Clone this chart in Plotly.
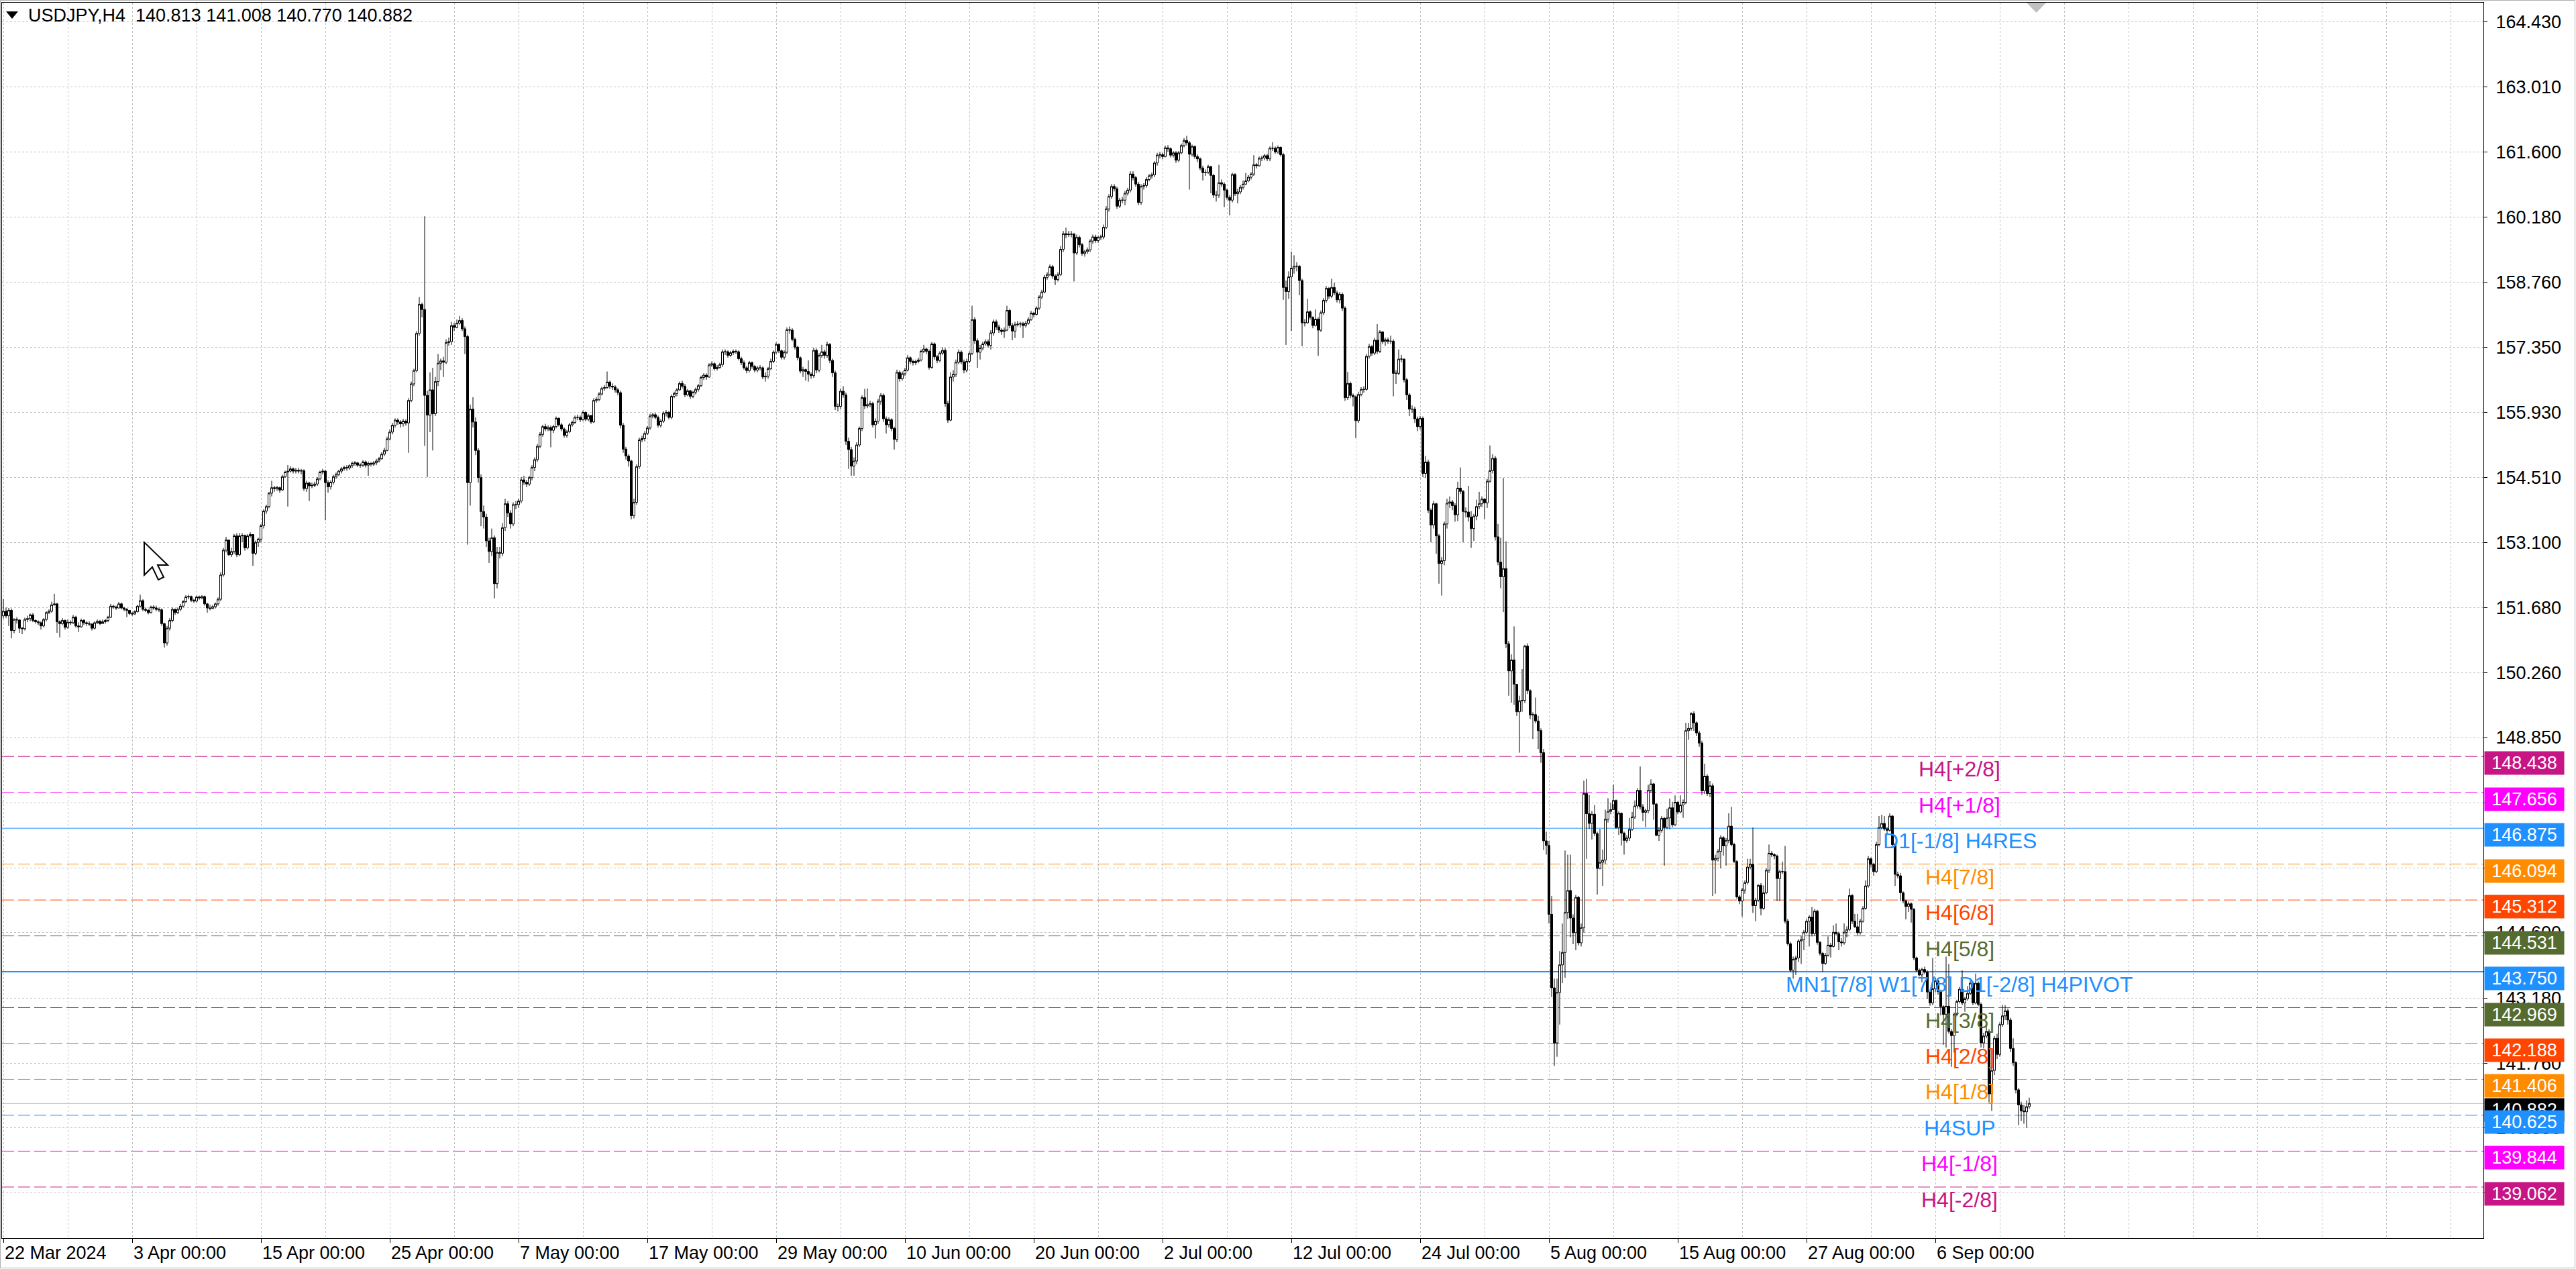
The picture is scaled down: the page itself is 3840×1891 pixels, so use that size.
import plotly.graph_objects as go

# ---- H4 bars, USDJPY, 22 Mar 2024 -> 13 Sep 2024 (6 bars per trading day)
first_open = 151.50

closes = [
    151.60, 151.50, 151.62, 151.18, 151.42, 151.41, 151.23, 151.22, 151.42, 151.44, 151.52, 151.40,
    151.37, 151.35, 151.28, 151.42, 151.57, 151.60, 151.74, 151.76, 151.37, 151.33, 151.40, 151.25,
    151.36, 151.35, 151.47, 151.28, 151.26, 151.40, 151.35, 151.33, 151.32, 151.23, 151.35, 151.38,
    151.33, 151.37, 151.40, 151.47, 151.71, 151.69, 151.67, 151.76, 151.67, 151.64, 151.62, 151.55,
    151.54, 151.59, 151.71, 151.83, 151.64, 151.62, 151.57, 151.69, 151.67, 151.64, 151.63, 151.33,
    150.91, 151.23, 151.40, 151.64, 151.57, 151.64, 151.71, 151.81, 151.91, 151.92, 151.84, 151.82,
    151.91, 151.89, 151.92, 151.76, 151.67, 151.66, 151.70, 151.76, 151.86, 152.39, 152.93, 153.15,
    152.83, 152.90, 153.24, 152.83, 153.24, 153.25, 152.98, 153.24, 153.27, 152.86, 153.10, 153.17,
    153.46, 153.78, 153.88, 154.17, 154.29, 154.27, 154.29, 154.24, 154.53, 154.63, 154.65, 154.70,
    154.65, 154.67, 154.65, 154.66, 154.27, 154.39, 154.33, 154.34, 154.37, 154.48, 154.63, 154.65,
    154.40, 154.31, 154.41, 154.53, 154.58, 154.65, 154.70, 154.73, 154.72, 154.77, 154.82, 154.83,
    154.78, 154.78, 154.85, 154.78, 154.82, 154.80, 154.83, 154.87, 154.92, 155.02, 155.10, 155.35,
    155.50, 155.65, 155.76, 155.72, 155.68, 155.74, 155.70, 156.19, 156.55, 156.84, 157.65, 158.28,
    158.17, 156.30, 155.87, 156.42, 155.90, 156.60, 157.00, 157.05, 157.02, 157.45, 157.47, 157.82,
    157.78, 157.87, 157.93, 157.75, 157.58, 154.40, 156.00, 155.72, 155.10, 154.51, 153.77, 153.65,
    153.13, 152.90, 153.20, 152.20, 152.88, 152.86, 153.42, 153.94, 153.74, 153.50, 153.92, 153.92,
    154.00, 154.46, 154.41, 154.37, 154.51, 154.73, 154.90, 155.19, 155.45, 155.62, 155.57, 155.60,
    155.54, 155.62, 155.80, 155.66, 155.57, 155.43, 155.51, 155.66, 155.71, 155.82, 155.82, 155.77,
    155.93, 155.78, 155.86, 155.72, 156.19, 156.21, 156.33, 156.45, 156.47, 156.59, 156.50, 156.48,
    156.42, 156.36, 155.65, 155.13, 154.98, 154.87, 153.68, 153.97, 154.75, 155.33, 155.36, 155.47,
    155.59, 155.85, 155.88, 155.82, 155.65, 155.74, 155.91, 155.93, 155.82, 156.28, 156.34, 156.42,
    156.56, 156.50, 156.31, 156.40, 156.28, 156.37, 156.43, 156.51, 156.69, 156.74, 156.70, 156.96,
    156.99, 156.88, 156.91, 156.97, 157.25, 157.25, 157.17, 157.23, 157.26, 157.25, 157.10, 157.01,
    156.90, 156.84, 157.01, 156.93, 156.85, 156.90, 156.90, 156.70, 156.72, 156.88, 157.04, 157.24,
    157.41, 157.27, 157.13, 157.24, 157.73, 157.72, 157.52, 157.35, 157.12, 156.83, 156.86, 156.82,
    156.76, 156.73, 157.28, 156.85, 157.17, 157.25, 157.17, 157.41, 157.06, 156.79, 156.06, 156.06,
    156.39, 156.31, 155.30, 155.12, 154.76, 154.87, 155.22, 155.58, 156.25, 156.07, 156.10, 156.12,
    155.66, 155.74, 156.17, 156.30, 155.79, 155.66, 155.77, 155.58, 155.34, 156.80, 156.66, 156.77,
    156.85, 157.12, 157.04, 157.01, 157.04, 157.07, 157.26, 157.31, 157.26, 156.91, 157.42, 157.14,
    157.06, 157.22, 157.28, 156.12, 155.76, 156.70, 156.76, 157.02, 157.24, 157.03, 156.85, 157.04,
    157.21, 157.95, 157.49, 157.24, 157.33, 157.42, 157.47, 157.39, 157.66, 157.90, 157.79, 157.72,
    157.69, 157.72, 158.15, 157.82, 157.70, 157.84, 157.85, 157.86, 157.82, 157.87, 157.95, 158.09,
    158.06, 158.20, 158.44, 158.55, 158.87, 158.93, 159.10, 158.90, 158.82, 158.93, 159.48, 159.82,
    159.80, 159.81, 159.81, 159.40, 159.74, 159.58, 159.39, 159.43, 159.47, 159.66, 159.75, 159.67,
    159.74, 159.75, 159.96, 160.36, 160.63, 160.85, 160.80, 160.42, 160.55, 160.55, 160.70, 160.77,
    161.12, 161.04, 160.90, 160.50, 160.85, 160.87, 161.00, 161.08, 161.10, 161.36, 161.53, 161.54,
    161.50, 161.69, 161.67, 161.53, 161.58, 161.42, 161.58, 161.74, 161.85, 161.80, 161.55, 161.72,
    161.50, 161.45, 161.25, 161.15, 161.16, 161.28, 161.09, 160.66, 160.66, 160.93, 160.90, 160.77,
    160.61, 160.55, 161.11, 160.69, 160.73, 160.83, 160.90, 160.97, 161.05, 161.12, 161.32, 161.30,
    161.46, 161.47, 161.52, 161.45, 161.68, 161.68, 161.60, 161.70, 161.54, 158.65, 158.56, 158.88,
    159.07, 159.11, 159.11, 158.80, 157.88, 157.88, 158.12, 158.00, 157.82, 157.96, 157.72, 158.10,
    158.37, 158.63, 158.46, 158.65, 158.53, 158.38, 158.50, 158.20, 156.25, 156.56, 156.30, 156.27,
    155.75, 156.32, 156.43, 156.43, 157.15, 157.36, 157.22, 157.50, 157.26, 157.68, 157.47, 157.51,
    157.48, 157.48, 156.78, 156.78, 157.09, 157.09, 156.64, 156.31, 156.00, 156.00, 155.79, 155.62,
    155.80, 154.60, 154.85, 153.80, 153.48, 153.94, 153.24, 152.64, 152.70, 153.50, 153.95, 153.98,
    153.90, 153.70, 154.28, 154.21, 153.77, 153.76, 153.65, 153.40, 153.67, 153.88, 153.94, 154.04,
    153.96, 154.43, 154.66, 154.93, 153.22, 152.67, 152.35, 152.53, 150.89, 150.30, 150.54, 150.01,
    149.41, 149.65, 149.66, 150.84, 149.87, 149.34, 149.35, 149.21, 149.00, 148.52, 146.60, 146.50,
    145.00, 143.40, 142.20, 143.30, 143.90, 144.17, 145.04, 145.52, 144.92, 144.60, 145.37, 144.38,
    144.71, 147.63, 147.19, 146.98, 147.18, 146.76, 146.00, 146.13, 146.18, 147.07, 147.24, 147.28,
    147.48, 146.89, 147.20, 146.77, 146.61, 146.66, 146.85, 147.12, 147.36, 147.70, 147.34, 147.22,
    147.26, 147.70, 147.84, 147.40, 146.72, 146.83, 147.09, 146.89, 147.10, 147.32, 146.95, 147.44,
    147.23, 147.38, 147.44, 149.00, 149.05, 149.37, 149.17, 148.95, 148.73, 147.69, 148.01, 147.63,
    147.80, 146.18, 146.22, 146.37, 146.67, 146.49, 146.61, 146.92, 146.52, 146.15, 145.38, 145.29,
    145.53, 145.69, 146.03, 146.09, 145.19, 145.31, 145.63, 145.13, 145.47, 145.96, 146.33, 146.30,
    146.27, 145.78, 145.93, 145.93, 144.85, 144.36, 143.78, 144.02, 144.05, 144.42, 144.45, 144.61,
    144.85, 144.94, 144.58, 145.07, 144.39, 144.15, 143.93, 144.11, 144.33, 144.30, 144.61, 144.58,
    144.40, 144.38, 144.61, 144.67, 145.41, 144.85, 144.73, 144.60, 144.85, 145.13, 145.62, 146.21,
    146.09, 145.93, 146.52, 146.89, 146.98, 146.86, 146.83, 147.14, 146.52, 145.87, 145.84, 145.47,
    145.29, 145.17, 145.23, 145.11, 144.05, 143.78, 143.68, 143.80, 143.74, 143.31, 143.07, 143.38,
    143.55, 143.32, 142.99, 142.82, 143.00, 142.45, 142.36, 142.82, 143.10, 143.37, 143.07, 143.16,
    143.28, 143.50, 143.07, 143.50, 143.04, 142.20, 142.35, 142.45, 141.09, 141.60, 142.30, 141.95,
    142.60, 142.79, 142.90, 142.70, 142.08, 141.77, 141.18, 140.85, 140.72, 140.70, 140.813, 140.882,
]

highs = [
    151.86, 151.68, 151.67, 151.66, 151.45, 151.47, 151.40, 151.26, 151.46, 151.50, 151.55, 151.56,
    151.42, 151.40, 151.38, 151.45, 151.60, 151.64, 151.81, 151.98, 151.78, 151.40, 151.45, 151.42,
    151.42, 151.40, 151.52, 151.50, 151.36, 151.44, 151.43, 151.38, 151.38, 151.34, 151.38, 151.42,
    151.41, 151.42, 151.43, 151.50, 151.76, 151.74, 151.72, 151.80, 151.79, 151.70, 151.67, 151.62,
    151.58, 151.62, 151.74, 151.96, 151.86, 151.68, 151.65, 151.72, 151.73, 151.72, 151.68, 151.66,
    151.35, 151.28, 151.45, 151.68, 151.66, 151.68, 151.76, 151.84, 151.95, 151.96, 151.94, 151.87,
    151.94, 151.94, 151.95, 151.94, 151.78, 151.74, 151.74, 151.79, 151.90, 152.45, 152.98, 153.22,
    153.10, 152.98, 153.28, 153.30, 153.30, 153.30, 153.27, 153.28, 153.32, 153.28, 153.14, 153.20,
    153.50, 153.82, 153.92, 154.20, 154.44, 154.33, 154.33, 154.31, 154.57, 154.66, 154.78, 154.76,
    154.73, 154.72, 154.72, 154.70, 154.69, 154.44, 154.42, 154.40, 154.42, 154.52, 154.66, 154.70,
    154.68, 154.45, 154.45, 154.57, 154.62, 154.68, 154.74, 154.77, 154.78, 154.80, 154.86, 154.87,
    154.85, 154.82, 154.89, 154.88, 154.86, 154.85, 154.87, 154.92, 154.96, 155.06, 155.16, 155.40,
    155.56, 155.70, 155.80, 155.80, 155.76, 155.79, 155.78, 156.24, 156.60, 156.88, 157.70, 158.44,
    158.32, 160.20, 156.40, 156.80, 156.90, 156.70, 157.20, 157.10, 157.14, 157.52, 157.56, 157.90,
    157.88, 157.95, 158.03, 157.98, 157.80, 157.62, 156.10, 156.26, 155.82, 155.15, 154.58, 153.90,
    153.72, 153.20, 153.40, 153.25, 153.00, 153.00, 153.52, 154.05, 154.00, 153.80, 153.97, 154.00,
    154.05, 154.52, 154.55, 154.46, 154.55, 154.78, 154.95, 155.24, 155.50, 155.66, 155.68, 155.65,
    155.64, 155.66, 155.84, 155.82, 155.70, 155.60, 155.55, 155.70, 155.75, 155.86, 155.88, 155.86,
    155.97, 155.95, 155.90, 155.88, 156.24, 156.26, 156.37, 156.49, 156.52, 156.82, 156.62, 156.56,
    156.52, 156.46, 156.40, 155.70, 155.18, 155.02, 154.90, 154.05, 154.80, 155.38, 155.42, 155.52,
    155.63, 155.90, 155.92, 155.92, 155.86, 155.78, 155.95, 155.98, 155.96, 156.32, 156.38, 156.46,
    156.60, 156.62, 156.55, 156.44, 156.42, 156.40, 156.47, 156.55, 156.73, 156.78, 156.78, 157.00,
    157.04, 157.02, 156.96, 157.01, 157.30, 157.30, 157.28, 157.27, 157.30, 157.30, 157.28, 157.14,
    157.06, 156.94, 157.05, 157.04, 156.96, 156.94, 156.96, 156.93, 156.80, 156.92, 157.10, 157.28,
    157.45, 157.43, 157.30, 157.28, 157.78, 157.80, 157.76, 157.56, 157.38, 157.15, 156.92, 156.88,
    157.06, 156.80, 157.34, 157.32, 157.22, 157.40, 157.30, 157.47, 157.44, 157.10, 156.84, 156.12,
    156.45, 156.50, 156.36, 155.38, 155.18, 154.95, 155.28, 155.62, 156.30, 156.44, 156.45, 156.18,
    156.16, 155.80, 156.22, 156.35, 156.34, 155.84, 155.82, 155.80, 155.62, 156.86, 156.84, 156.82,
    156.90, 157.18, 157.15, 157.08, 157.08, 157.12, 157.30, 157.40, 157.34, 157.30, 157.46, 157.45,
    157.18, 157.26, 157.35, 157.33, 156.18, 156.80, 156.85, 157.08, 157.30, 157.28, 157.08, 157.10,
    157.26, 158.25, 158.00, 157.54, 157.40, 157.47, 157.52, 157.52, 157.72, 157.95, 157.95, 157.84,
    157.76, 157.78, 158.25, 158.18, 157.88, 157.90, 157.92, 157.90, 157.90, 157.92, 158.00, 158.14,
    158.12, 158.24, 158.48, 158.60, 158.92, 158.98, 159.15, 159.14, 158.94, 158.98, 159.55, 159.88,
    159.95, 159.88, 159.88, 159.84, 159.80, 159.78, 159.62, 159.47, 159.52, 159.70, 159.80, 159.80,
    159.78, 159.80, 160.02, 160.42, 160.68, 160.90, 160.90, 160.84, 160.60, 160.62, 160.75, 160.82,
    161.18, 161.18, 161.08, 160.95, 160.90, 160.92, 161.05, 161.12, 161.15, 161.40, 161.58, 161.60,
    161.58, 161.74, 161.75, 161.70, 161.62, 161.62, 161.62, 161.78, 161.90, 161.95, 161.84, 161.76,
    161.74, 161.55, 161.48, 161.30, 161.22, 161.32, 161.30, 161.12, 160.75, 161.32, 161.00, 160.94,
    160.80, 160.66, 161.15, 161.14, 160.80, 160.88, 160.98, 161.14, 161.10, 161.16, 161.53, 161.36,
    161.50, 161.52, 161.56, 161.56, 161.72, 161.81, 161.72, 161.74, 161.72, 161.58, 158.80, 159.00,
    159.43, 159.35, 159.20, 159.14, 158.84, 157.96, 158.40, 158.15, 158.02, 158.17, 158.00, 158.15,
    158.42, 158.68, 158.66, 158.84, 158.75, 158.58, 158.55, 158.54, 158.24, 156.81, 156.60, 156.34,
    156.30, 156.38, 156.48, 156.50, 157.20, 157.42, 157.40, 157.55, 157.85, 157.72, 157.70, 157.56,
    157.56, 157.60, 157.52, 156.85, 157.30, 157.18, 157.10, 156.68, 156.35, 156.08, 156.05, 155.84,
    155.85, 155.84, 154.98, 154.90, 153.84, 154.00, 153.96, 153.28, 152.78, 153.55, 154.05, 154.10,
    154.02, 153.95, 154.42, 154.73, 154.24, 153.86, 154.33, 153.78, 153.72, 154.03, 154.20, 154.10,
    154.06, 154.48, 155.21, 155.02, 154.98, 153.50, 153.20, 154.50, 153.12, 150.95, 150.66, 151.27,
    149.98, 149.76, 150.34, 150.87, 150.90, 149.90, 149.40, 149.72, 149.32, 149.05, 148.60, 146.80,
    146.60, 145.40, 143.60, 143.60, 144.20, 144.80, 146.39, 146.30, 146.30, 145.00, 145.42, 145.40,
    144.80, 147.91, 147.95, 147.60, 147.25, 147.38, 146.80, 146.86, 146.41, 147.28, 147.53, 147.43,
    147.82, 147.50, 147.24, 147.22, 146.80, 146.72, 147.10, 147.23, 147.48, 147.75, 148.22, 147.40,
    147.30, 147.82, 147.94, 147.86, 147.42, 146.90, 147.14, 147.12, 147.30, 147.52, 147.45, 147.59,
    147.46, 147.59, 147.50, 149.17, 149.17, 149.40, 149.42, 149.20, 149.00, 148.78, 148.28, 148.05,
    147.90, 147.85, 146.30, 146.42, 146.72, 146.70, 146.66, 147.20, 147.34, 146.56, 146.18, 145.42,
    145.58, 145.74, 146.21, 146.21, 146.89, 145.36, 145.66, 145.68, 145.63, 146.00, 146.52, 146.38,
    146.33, 146.30, 145.97, 146.15, 146.49, 144.90, 144.40, 144.08, 144.10, 144.46, 144.54, 144.66,
    144.90, 144.98, 145.16, 145.12, 145.10, 144.42, 144.18, 144.16, 144.52, 144.38, 144.76, 144.80,
    144.62, 144.48, 144.80, 144.74, 145.56, 145.44, 145.01, 145.01, 144.90, 145.18, 145.74, 146.27,
    146.24, 146.12, 146.58, 147.14, 147.17, 147.14, 146.90, 147.20, 147.16, 146.56, 145.93, 145.90,
    145.50, 145.32, 145.28, 145.26, 145.14, 144.08, 143.82, 143.84, 143.86, 143.78, 143.34, 144.05,
    143.62, 143.58, 143.36, 143.02, 144.08, 143.92, 142.50, 142.86, 143.14, 143.42, 143.78, 143.20,
    143.44, 143.56, 143.54, 143.71, 143.54, 143.08, 142.42, 142.60, 142.50, 141.70, 142.35, 142.40,
    142.65, 143.03, 143.02, 142.95, 142.75, 142.30, 141.80, 141.22, 140.92, 140.85, 140.95, 141.008,
]

lows = [
    151.44, 151.45, 151.28, 151.01, 151.12, 151.33, 151.13, 151.10, 151.18, 151.36, 151.38, 151.36,
    151.33, 151.30, 151.20, 151.25, 151.38, 151.54, 151.57, 151.72, 151.13, 151.03, 151.30, 151.20,
    151.22, 151.30, 151.32, 151.24, 151.15, 151.24, 151.30, 151.28, 151.28, 151.18, 151.20, 151.32,
    151.30, 151.32, 151.33, 151.36, 151.45, 151.65, 151.63, 151.66, 151.64, 151.60, 151.47, 151.52,
    151.50, 151.52, 151.57, 151.69, 151.60, 151.58, 151.53, 151.55, 151.63, 151.60, 151.58, 151.28,
    150.81, 150.85, 151.18, 151.36, 151.52, 151.54, 151.60, 151.68, 151.78, 151.86, 151.80, 151.78,
    151.79, 151.85, 151.86, 151.72, 151.57, 151.62, 151.65, 151.66, 151.72, 151.82, 152.35, 152.88,
    152.80, 152.78, 152.85, 152.78, 152.80, 153.10, 152.92, 152.95, 153.20, 152.59, 152.82, 153.00,
    153.10, 153.40, 153.72, 153.84, 154.10, 154.20, 154.22, 154.18, 154.22, 154.50, 153.88, 154.62,
    154.60, 154.60, 154.60, 154.58, 154.22, 154.20, 154.00, 154.28, 154.30, 154.33, 154.45, 154.58,
    153.58, 154.18, 154.25, 154.36, 154.48, 154.54, 154.60, 154.66, 154.66, 154.68, 154.72, 154.77,
    154.74, 154.72, 154.74, 154.73, 154.55, 154.75, 154.76, 154.78, 154.84, 154.90, 154.98, 155.08,
    155.32, 155.45, 155.60, 155.66, 155.60, 155.62, 155.64, 155.05, 156.15, 156.50, 156.80, 157.60,
    158.00, 155.20, 154.52, 155.50, 155.10, 155.85, 156.50, 156.85, 156.70, 156.98, 157.38, 157.40,
    157.70, 157.76, 157.84, 157.70, 157.20, 153.05, 153.90, 155.60, 155.00, 154.40, 153.45, 153.40,
    153.00, 152.65, 152.80, 151.88, 152.10, 152.75, 152.80, 153.35, 153.65, 153.40, 153.45, 153.82,
    153.85, 153.95, 154.35, 154.30, 154.33, 154.45, 154.65, 154.85, 155.15, 155.40, 155.52, 155.52,
    155.17, 155.48, 155.58, 155.62, 155.52, 155.38, 155.38, 155.48, 155.62, 155.68, 155.76, 155.72,
    155.74, 155.74, 155.74, 155.68, 155.70, 156.14, 156.17, 156.30, 156.40, 156.44, 156.44, 156.42,
    156.36, 156.30, 155.58, 155.05, 154.90, 154.75, 153.60, 153.62, 153.92, 154.70, 155.28, 155.30,
    155.44, 155.55, 155.80, 155.78, 155.60, 155.60, 155.70, 155.84, 155.78, 155.78, 156.24, 156.28,
    156.40, 156.45, 156.26, 156.28, 156.22, 156.24, 156.32, 156.38, 156.48, 156.64, 156.64, 156.68,
    156.92, 156.84, 156.84, 156.88, 156.92, 157.18, 157.12, 157.14, 157.18, 157.20, 157.06, 156.96,
    156.86, 156.78, 156.80, 156.88, 156.80, 156.80, 156.84, 156.65, 156.60, 156.66, 156.85, 157.00,
    157.20, 157.22, 157.08, 157.08, 157.20, 157.64, 157.48, 157.30, 157.06, 156.78, 156.70, 156.62,
    156.60, 156.66, 156.68, 156.78, 156.80, 157.12, 157.10, 157.12, 157.00, 156.70, 155.98, 155.95,
    156.00, 156.25, 155.22, 154.70, 154.55, 154.55, 154.80, 155.18, 155.52, 156.00, 156.02, 156.04,
    155.60, 155.36, 155.68, 156.10, 155.72, 155.47, 155.60, 155.52, 155.12, 155.28, 156.60, 156.62,
    156.72, 156.82, 156.98, 156.95, 156.96, 157.00, 157.04, 157.22, 157.20, 156.86, 156.88, 157.08,
    157.00, 157.02, 157.18, 156.05, 155.70, 155.74, 156.60, 156.70, 156.98, 156.98, 156.78, 156.80,
    157.00, 157.18, 157.42, 156.90, 157.08, 157.28, 157.38, 157.34, 157.30, 157.60, 157.72, 157.66,
    157.62, 157.55, 157.70, 157.76, 157.50, 157.55, 157.80, 157.78, 157.55, 157.78, 157.84, 157.92,
    158.00, 158.04, 158.16, 158.40, 158.52, 158.82, 158.90, 158.84, 158.70, 158.78, 158.90, 159.42,
    159.72, 159.75, 159.74, 158.78, 159.36, 159.52, 159.34, 159.32, 159.38, 159.42, 159.60, 159.62,
    159.62, 159.68, 159.70, 159.92, 160.30, 160.58, 160.74, 160.36, 160.38, 160.48, 160.44, 160.65,
    160.72, 160.98, 160.84, 160.44, 160.45, 160.78, 160.82, 160.96, 161.02, 161.05, 161.30, 161.46,
    161.44, 161.48, 161.60, 161.48, 161.48, 161.36, 161.38, 161.55, 161.70, 161.74, 160.78, 161.50,
    161.45, 161.38, 161.20, 160.98, 161.08, 161.12, 160.70, 160.60, 160.52, 160.60, 160.84, 160.40,
    160.56, 160.22, 160.50, 160.64, 160.48, 160.68, 160.78, 160.88, 160.94, 161.00, 161.08, 161.24,
    161.28, 161.40, 161.42, 161.40, 161.40, 161.62, 161.56, 161.56, 161.50, 158.38, 157.40, 158.40,
    157.70, 158.95, 159.00, 158.48, 157.37, 157.80, 157.86, 157.95, 157.76, 157.80, 157.16, 157.68,
    158.05, 158.32, 158.40, 158.42, 158.48, 158.32, 158.30, 158.14, 156.18, 156.20, 156.24, 156.06,
    155.37, 155.70, 156.28, 156.36, 156.40, 157.10, 157.16, 157.18, 157.20, 157.22, 157.42, 157.38,
    157.42, 157.42, 156.28, 156.55, 156.74, 157.02, 156.58, 156.20, 155.85, 155.92, 155.70, 155.52,
    155.56, 154.52, 154.50, 153.74, 153.10, 153.40, 152.85, 152.20, 151.94, 152.60, 153.40, 153.85,
    153.80, 153.55, 153.56, 154.15, 153.10, 153.64, 153.55, 152.98, 153.13, 153.58, 153.82, 153.87,
    153.61, 153.85, 154.40, 154.60, 153.14, 152.60, 152.10, 151.58, 150.80, 149.76, 149.61, 149.56,
    149.32, 148.52, 149.41, 149.60, 149.80, 149.25, 148.82, 149.16, 148.60, 148.30, 146.40, 146.30,
    144.80, 143.20, 141.70, 141.90, 142.60, 143.50, 143.62, 144.90, 144.50, 144.35, 144.22, 144.32,
    144.30, 144.60, 146.21, 146.86, 146.63, 146.70, 145.43, 145.98, 145.62, 146.10, 147.00, 147.18,
    147.40, 146.86, 146.73, 146.50, 146.30, 146.56, 146.60, 146.82, 147.08, 147.30, 147.28, 147.03,
    146.90, 147.20, 147.65, 147.06, 146.70, 146.60, 146.78, 146.06, 146.85, 146.85, 146.90, 146.92,
    147.18, 147.20, 147.10, 147.40, 148.80, 149.00, 148.99, 148.88, 148.65, 147.60, 147.62, 147.58,
    147.55, 145.40, 145.45, 146.15, 146.00, 146.28, 146.06, 146.55, 146.48, 146.12, 145.34, 145.22,
    144.95, 145.45, 145.65, 145.98, 145.03, 144.85, 145.27, 144.98, 145.10, 145.44, 145.90, 146.25,
    146.20, 145.29, 145.29, 145.88, 144.80, 144.32, 143.74, 143.60, 143.68, 143.96, 143.92, 144.22,
    144.58, 144.30, 144.52, 144.54, 144.34, 144.10, 143.75, 143.90, 144.08, 144.06, 144.28, 144.54,
    144.22, 144.30, 144.34, 144.50, 144.64, 144.79, 144.70, 144.55, 144.56, 144.82, 145.10, 145.58,
    146.02, 145.84, 145.90, 146.48, 146.85, 146.82, 146.74, 146.80, 146.48, 145.62, 145.78, 145.29,
    145.24, 144.89, 145.05, 144.82, 144.00, 143.74, 143.65, 143.52, 143.70, 143.16, 143.01, 143.02,
    143.30, 143.25, 142.80, 142.16, 142.10, 142.40, 141.68, 141.99, 142.78, 143.06, 143.02, 142.88,
    143.12, 143.24, 143.02, 143.04, 143.00, 142.10, 142.08, 142.30, 140.91, 140.72, 141.50, 141.85,
    141.90, 142.55, 142.70, 142.60, 142.00, 141.70, 141.10, 140.41, 140.50, 140.44, 140.35, 140.770,
]

# FX H4 bars open where the previous one closed
opens = [first_open] + closes[:-1]

# ---- time-axis labels (one every 8 trading days = 48 H4 bars)
x_labels = ["22 Mar 2024", "3 Apr 00:00", "15 Apr 00:00", "25 Apr 00:00", "7 May 00:00",
            "17 May 00:00", "29 May 00:00", "10 Jun 00:00", "20 Jun 00:00", "2 Jul 00:00",
            "12 Jul 00:00", "24 Jul 00:00", "5 Aug 00:00", "15 Aug 00:00", "27 Aug 00:00",
            "6 Sep 00:00"]
BARS_PER_LABEL = 48
GRID_BARS = 24

# ---- price scale
y_ticks = [164.430, 163.010, 161.600, 160.180, 158.760, 157.350, 155.930, 154.510, 153.100,
           151.680, 150.260, 148.850, 147.430, 146.010, 144.600, 143.180, 141.760, 140.350,
           138.930]

# ---- Murrey-math style levels drawn by the indicator
levels = [148.438, 147.656, 146.875, 146.094, 145.312, 144.531, 143.750,
          142.969, 142.188, 141.406, 140.625, 139.844, 139.062]
level_names = ["H4[+2/8]", "H4[+1/8]", "D1[-1/8] H4RES", "H4[7/8]", "H4[6/8]", "H4[5/8]",
               "MN1[7/8] W1[7/8] D1[-2/8] H4PIVOT", "H4[3/8]", "H4[2/8]", "H4[1/8]",
               "H4SUP", "H4[-1/8]", "H4[-2/8]"]
level_colors = ["#C71585", "#FF00FF", "#1E90FF", "#FF8C00", "#FF4500", "#556B2F", "#1E90FF",
                "#556B2F", "#FF4500", "#FF8C00", "#1E90FF", "#FF00FF", "#C71585"]
level_solid = [False, False, True, False, False, False, True,
               False, False, False, False, False, False]
last_price = 140.882
header = "USDJPY,H4\u00a0\u00a0140.813 141.008 140.770 140.882"

# ---- geometry (pixels of the 3840x1891 page)
W, H = 3840, 1891
ML, MR, MT, MB = 3, 138, 4, 46
PW, PH = W - ML - MR, H - MT - MB
BAR_PX = 4
X0 = -0.5
X1 = X0 + PW / BAR_PX
Y0, Y1 = 137.95, 164.85
LABEL_BAR = 729          # bar where the level captions are centred

FONT = "Liberation Sans, Arial, sans-serif"
GRID = "#c0c0c0"


def pxx(px):
    return (px - ML) / PW


def pxy(py):
    return (H - MB - py) / PH


def poly(points):
    return "M " + " L ".join(f"{pxx(a):.5f},{pxy(b):.5f}" for a, b in points) + " Z"


n = len(closes)
assert len(highs) == n and len(lows) == n
bars = list(range(n))

fig = go.Figure()
fig.add_trace(go.Candlestick(
    x=bars, open=opens, high=highs, low=lows, close=closes,
    increasing=dict(line=dict(color="black", width=1), fillcolor="white"),
    decreasing=dict(line=dict(color="black", width=1), fillcolor="black"),
    whiskerwidth=0, hoverinfo="skip", showlegend=False,
))

shapes = []
# bid line
shapes.append(dict(type="line", xref="paper", x0=0, x1=1, yref="y", y0=last_price, y1=last_price,
                   line=dict(color="#c0c0c0", width=1), layer="between"))
for lv, col, solid in zip(levels, level_colors, level_solid):
    shapes.append(dict(type="line", xref="paper", x0=0, x1=1, yref="y", y0=lv, y1=lv,
                       line=dict(color=col, width=2 if lv == 143.750 else 1,
                                 dash="solid" if solid else "18px,6px"),
                       layer="between"))
# chart-shift marker at the top
shapes.append(dict(type="path", xref="paper", yref="paper",
                   path=poly([(3021, 4), (3050, 4), (3035.5, 19)]),
                   fillcolor="#c0c0c0", line=dict(width=0)))
# small triangle before the symbol name
shapes.append(dict(type="path", xref="paper", yref="paper",
                   path=poly([(9, 17), (27, 17), (18, 28)]),
                   fillcolor="black", line=dict(width=0)))
# mouse pointer left on the chart
shapes.append(dict(type="path", xref="paper", yref="paper",
                   path=poly([(215, 808), (215, 857), (227, 845), (236, 864), (244, 860),
                              (235, 842), (250, 842)]),
                   fillcolor="white", line=dict(color="black", width=2)))
# window frame
shapes.append(dict(type="rect", xref="paper", yref="paper",
                   x0=pxx(0.5), x1=pxx(W - 1.5), y0=pxy(H - 1.5), y1=pxy(0.5),
                   line=dict(color="#b0b0b0", width=1), fillcolor="rgba(0,0,0,0)"))

ann = []
ann.append(dict(xref="paper", yref="paper", x=pxx(40), y=pxy(23), xanchor="left", yanchor="middle",
                text=header, showarrow=False, font=dict(family=FONT, size=27, color="black")))
# time labels, left aligned on their tick
for i, lab in enumerate(x_labels):
    ann.append(dict(xref="x", yref="paper", x=i * BARS_PER_LABEL, y=pxy(1867),
                    xanchor="left", yanchor="middle", text=lab, showarrow=False,
                    font=dict(family=FONT, size=27, color="black")))
# level captions
for lv, name, col in zip(levels, level_names, level_colors):
    ann.append(dict(xref="x", yref="y", x=LABEL_BAR, y=lv, xanchor="center", yanchor="top",
                    text=name, showarrow=False, borderpad=0,
                    font=dict(family=FONT, size=32, color=col)))
# price tags on the scale: bid first, level tags on top of it
tags = [(last_price, "black")] + list(zip(levels, level_colors))
for price, col in tags:
    ann.append(dict(xref="paper", yref="y", x=1, y=price, xanchor="left", yanchor="middle",
                    xshift=1, yshift=-10, text=f"{price:.3f}", showarrow=False,
                    width=118, height=34, borderpad=0, bgcolor=col, align="center",
                    font=dict(family=FONT, size=27, color="white")))

label_ticks = [i * BARS_PER_LABEL for i in range(len(x_labels))]
grid_ticks = [b for b in range(0, int(X1) + 1, GRID_BARS) if b not in label_ticks]

fig.update_layout(
    width=W, height=H,
    margin=dict(l=ML, r=MR, t=MT, b=MB, pad=0),
    paper_bgcolor="white", plot_bgcolor="white",
    boxgap=0.25, boxgroupgap=0,
    showlegend=False,
    shapes=shapes, annotations=ann,
    xaxis=dict(range=[X0, X1], rangeslider=dict(visible=False), tickmode="array",
               tickvals=label_ticks, showticklabels=False, ticks="outside", ticklen=6,
               tickcolor="black", showgrid=True, gridcolor=GRID, griddash="dot", gridwidth=1,
               zeroline=False, showline=True, linecolor="black", linewidth=1, mirror=True,
               minor=dict(tickmode="array", tickvals=grid_ticks, showgrid=True, gridcolor=GRID,
                          griddash="dot", gridwidth=1, ticks="")),
    yaxis=dict(range=[Y0, Y1], side="right", tickmode="array", tickvals=y_ticks,
               ticktext=[f"{v:.3f}" for v in y_ticks], ticks="outside", ticklen=5,
               tickcolor="black", ticklabelstandoff=7,
               tickfont=dict(family=FONT, size=27, color="black"),
               showgrid=True, gridcolor=GRID, griddash="dot", gridwidth=1, zeroline=False,
               showline=True, linecolor="black", linewidth=1, mirror=True),
)

fig.write_html("out.html", config={"displayModeBar": False},
               post_script="document.body.style.margin='0';document.body.style.overflow='hidden';")
